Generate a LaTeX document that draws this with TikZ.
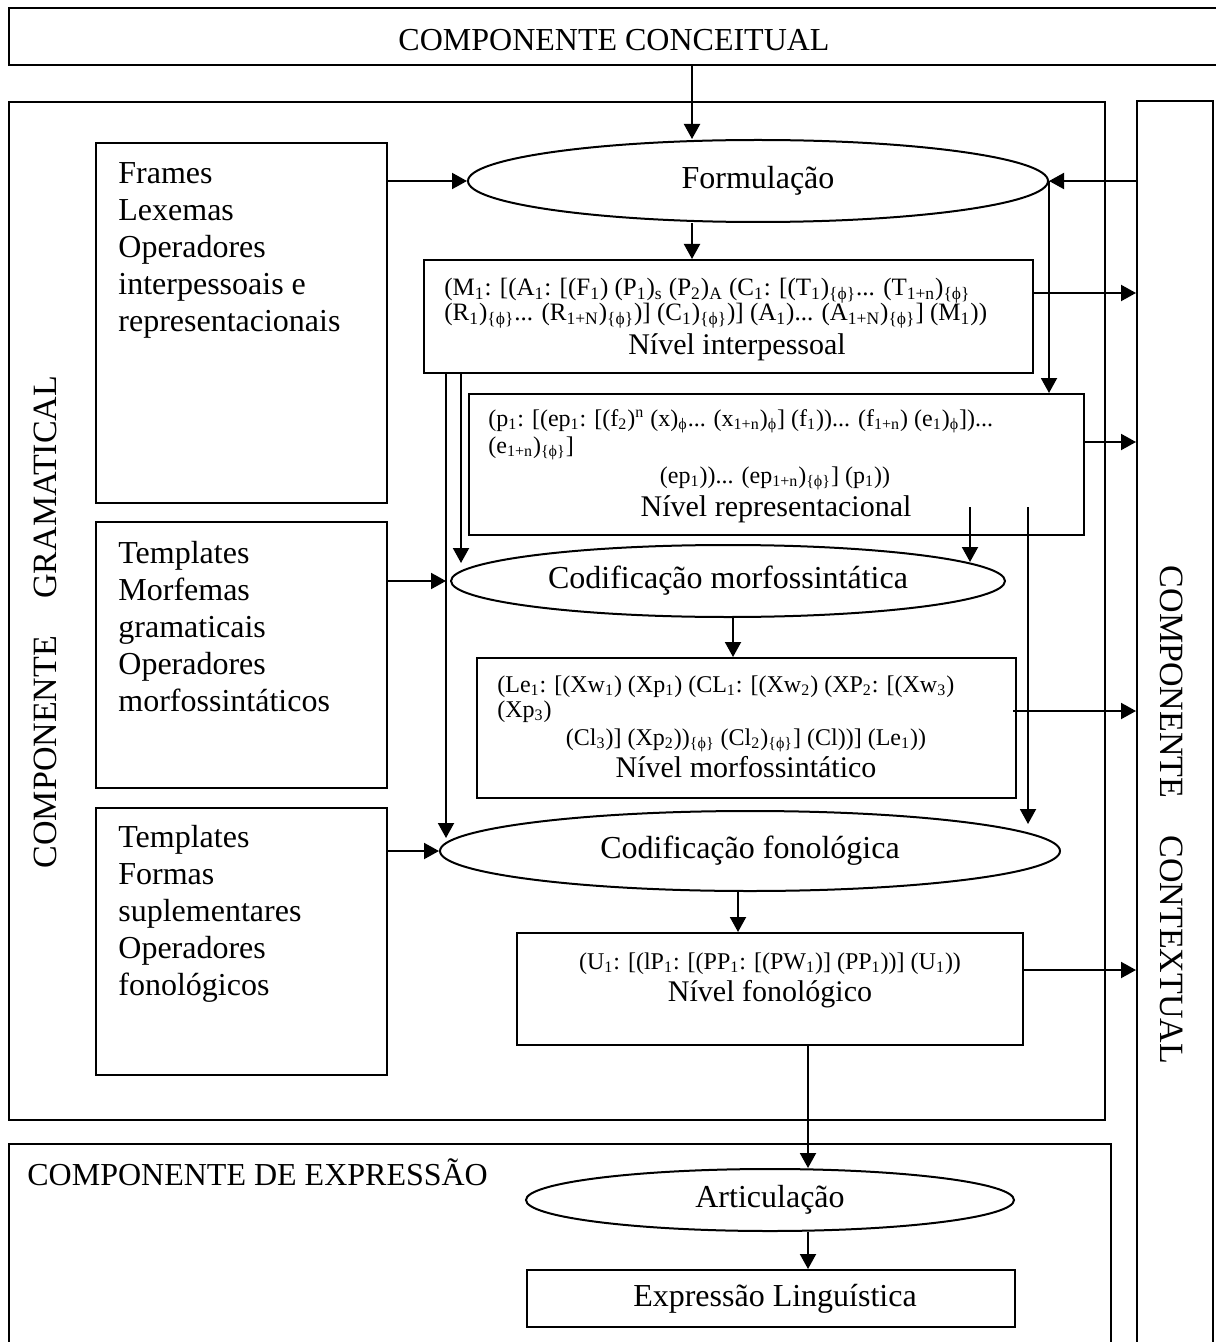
\documentclass[tikz,border=0pt]{standalone}
\usepackage{fontspec}
\setmainfont{Liberation Serif}
\usetikzlibrary{arrows.meta,shapes.geometric,fit}
\newcommand{\sbs}[1]{\textsubscript{#1}}
\newcommand{\sps}[1]{\textsuperscript{#1}}
\newcommand{\fph}{ϕ}
\newcommand{\bph}{\{ϕ\}}
\begin{document}
\begin{tikzpicture}[x=0.5pt,y=-0.5pt,
  box/.style={draw, line width=1pt, inner sep=0pt},
  oval/.style={draw, ellipse, line width=1pt, inner sep=0pt, font=\fontsize{16}{19}\selectfont},
  arr/.style={line width=1pt, -{Triangle[length=7.5pt,width=8pt]}},
  lbl/.style={inner sep=0pt, font=\fontsize{16}{18.5}\selectfont, align=left},
  side/.style={inner sep=0pt, font=\fontsize{17}{19}\selectfont},
  frm/.style={inner sep=0pt, font=\fontsize{12}{13}\selectfont, anchor=base west},
  frmc/.style={inner sep=0pt, font=\fontsize{12}{13}\selectfont, anchor=base},
  lvl/.style={inner sep=0pt, font=\fontsize{15}{17}\selectfont, anchor=base},
]
\useasboundingbox (0,0) rectangle (1215,1342);
% outer components
\coordinate (k1) at (9,8); \coordinate (k2) at (1230,65);
\node[box, line width=1.4pt, fit=(k1)(k2)] (concept) {};
\node[lbl] (tconcept) at (614,40) {COMPONENTE CONCEITUAL};
\coordinate (g1) at (9,102); \coordinate (g2) at (1105,1120);
\node[box, fit=(g1)(g2)] (gram) {};
\node[side, rotate=90] (tgram) at (45,622) {COMPONENTE\hspace{1.1em}GRAMATICAL};
\coordinate (x1) at (1137,101); \coordinate (x2) at (1213,1370);
\node[box, fit=(x1)(x2)] (context) {};
\node[side, rotate=-90] (tcontext) at (1172,815) {COMPONENTE\hspace{1.1em}CONTEXTUAL};
\coordinate (e1) at (9,1144); \coordinate (e2) at (1111,1370);
\node[box, fit=(e1)(e2)] (expr) {};
\node[lbl, anchor=base west] (texpr) at (27,1185) {COMPONENTE DE EXPRESSÃO};
% left boxes
\coordinate (b1a) at (96,143); \coordinate (b1b) at (387,503);
\node[box, fit=(b1a)(b1b)] (box1) {};
\node[lbl, anchor=north west] (tbox1) at (118,162) {Frames\\Lexemas\\Operadores\\interpessoais e\\representacionais};
\coordinate (b2a) at (96,522); \coordinate (b2b) at (387,788);
\node[box, fit=(b2a)(b2b)] (box2) {};
\node[lbl, anchor=north west] (tbox2) at (118,541) {Templates\\Morfemas\\gramaticais\\Operadores\\morfossintáticos};
\coordinate (b3a) at (96,808); \coordinate (b3b) at (387,1075);
\node[box, fit=(b3a)(b3b)] (box3) {};
\node[lbl, anchor=north west] (tbox3) at (118,825) {Templates\\Formas\\suplementares\\Operadores\\fonológicos};
% ellipses
\node[oval, minimum width=290pt, minimum height=41pt] (formul) at (758,181) {Formulação};
\node[oval, minimum width=277pt, minimum height=36pt] (cmorf) at (728,581) {Codificação morfossintática};
\node[oval, minimum width=310pt, minimum height=40pt] (cfon) at (750,851) {Codificação fonológica};
\node[oval, minimum width=244pt, minimum height=31pt] (artic) at (770,1200) {Articulação};
% level boxes
\coordinate (i1) at (424,260); \coordinate (i2) at (1033,373);
\node[box, fit=(i1)(i2)] (interp) {};
\node[frm, font=\fontsize{12.5}{13}\selectfont] (il1) at (444,296) {(M\sbs{1}: [(A\sbs{1}: [(F\sbs{1}) (P\sbs{1})\sbs{s} (P\sbs{2})\sbs{A} (C\sbs{1}: [(T\sbs{1})\sbs{\bph}... (T\sbs{1+n})\sbs{\bph}};
\node[frm, font=\fontsize{12.5}{13}\selectfont] (il2) at (444,321) {(R\sbs{1})\sbs{\bph}... (R\sbs{1+N})\sbs{\bph})] (C\sbs{1})\sbs{\bph})] (A\sbs{1})... (A\sbs{1+N})\sbs{\bph}] (M\sbs{1}))};
\node[lvl] (il3) at (737,355) {Nível interpessoal};
\coordinate (r1) at (469,394); \coordinate (r2) at (1084,535);
\node[box, fit=(r1)(r2)] (rep) {};
\node[frm] (rl1) at (488,426) {(p\sbs{1}: [(ep\sbs{1}: [(f\sbs{2})\sps{n} (x)\sbs{\fph}... (x\sbs{1+n})\sbs{\fph}] (f\sbs{1}))... (f\sbs{1+n}) (e\sbs{1})\sbs{\fph}])...};
\node[frm] (rl2) at (488,453) {(e\sbs{1+n})\sbs{\bph}]};
\node[frmc] (rl3) at (775,483) {(ep\sbs{1}))... (ep\sbs{1+n})\sbs{\bph}] (p\sbs{1}))};
\node[lvl] (rl4) at (776,516) {Nível representacional};
\coordinate (m1) at (477,658); \coordinate (m2) at (1016,798);
\node[box, fit=(m1)(m2)] (morf) {};
\node[frm] (ml1) at (497,692) {(Le\sbs{1}: [(Xw\sbs{1}) (Xp\sbs{1}) (CL\sbs{1}: [(Xw\sbs{2}) (XP\sbs{2}: [(Xw\sbs{3})};
\node[frm] (ml2) at (497,717) {(Xp\sbs{3})};
\node[frmc] (ml3) at (746,745) {(Cl\sbs{3})] (Xp\sbs{2}))\sbs{\bph} (Cl\sbs{2})\sbs{\bph}] (Cl))] (Le\sbs{1}))};
\node[lvl] (ml4) at (746,777) {Nível morfossintático};
\coordinate (f1) at (517,933); \coordinate (f2) at (1023,1045);
\node[box, fit=(f1)(f2)] (fon) {};
\node[frmc] (fl1) at (770,969) {(U\sbs{1}: [(lP\sbs{1}: [(PP\sbs{1}: [(PW\sbs{1})] (PP\sbs{1}))] (U\sbs{1}))};
\node[lvl] (fl2) at (770,1001) {Nível fonológico};
\coordinate (l1) at (527,1270); \coordinate (l2) at (1015,1327);
\node[box, fit=(l1)(l2)] (exl) {};
\node[lbl] (texl) at (775,1299) {Expressão Linguística};
% connectors
\coordinate (xa) at (692,0);
\draw[arr] (concept.south -| xa) -- (formul.north -| xa);
\draw[arr] (box1.east |- formul.west) -- (formul.west);
\draw[arr] (context.west |- formul.east) -- (formul.east);
\draw[arr] (formul.south -| xa) -- (interp.north -| xa);
\draw[arr] (formul.east) -- (formul.east |- rep.north);
\coordinate (ya) at (0,293);
\draw[arr] (interp.east |- ya) -- (context.west |- ya);
\coordinate (yb) at (0,442);
\draw[arr] (rep.east |- yb) -- (context.west |- yb);
\coordinate (xb) at (461,0); \coordinate (tb) at (461,563);
\draw[arr] (interp.south -| xb) -- (tb);
\coordinate (xc) at (446,0); \coordinate (tc) at (446,838);
\draw[arr] (interp.south -| xc) -- (tc);
\draw[arr] (box2.east |- cmorf.west) -- (cmorf.west -| xc);
\draw[arr] (box3.east |- cfon.west) -- (cfon.west);
\coordinate (sd) at (970,507); \coordinate (td) at (970,562);
\draw[arr] (sd) -- (td);
\coordinate (se) at (1028,507); \coordinate (te) at (1028,824);
\draw[arr] (se) -- (te);
\coordinate (xf) at (733,0);
\draw[arr] (cmorf.south -| xf) -- (morf.north -| xf);
\coordinate (sg) at (1013,711);
\draw[arr] (sg) -- (context.west |- sg);
\coordinate (xh) at (738,0);
\draw[arr] (cfon.south -| xh) -- (fon.north -| xh);
\coordinate (yi) at (0,970);
\draw[arr] (fon.east |- yi) -- (context.west |- yi);
\coordinate (xj) at (808,0);
\draw[arr] (fon.south -| xj) -- (artic.north -| xj);
\draw[arr] (artic.south -| xj) -- (exl.north -| xj);
\end{tikzpicture}
\end{document}
